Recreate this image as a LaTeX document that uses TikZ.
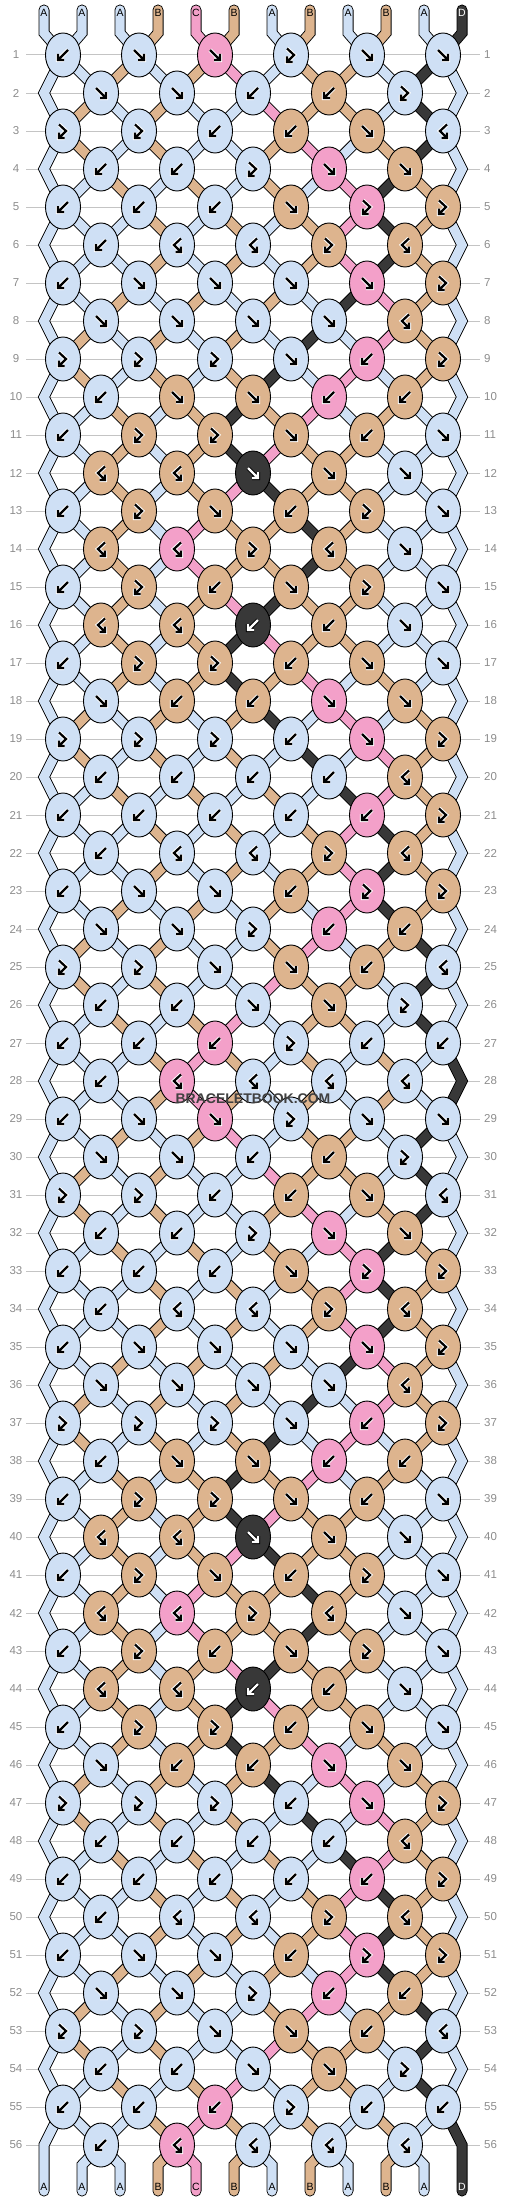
\documentclass[tikz,border=0pt]{standalone}
\usepackage{fontspec}
\setmainfont{Liberation Sans}
\usetikzlibrary{shapes.geometric}
\definecolor{colA}{RGB}{207,224,245}
\definecolor{colB}{RGB}{221,180,142}
\definecolor{colC}{RGB}{243,160,201}
\definecolor{colD}{RGB}{56,56,56}
\definecolor{gridgray}{RGB}{196,196,196}
\definecolor{numgray}{RGB}{140,140,140}
\definecolor{wmgray}{RGB}{64,64,64}
\pgfdeclarelayer{grid}
\pgfdeclarelayer{cout}
\pgfdeclarelayer{cfill}
\pgfsetlayers{grid,cout,cfill,main}
% knot types: F forward, B backward, X forward-backward, Y backward-forward
\expandafter\def\csname ty1\endcsname{B,F,F,X,F,F}
\expandafter\def\csname ty2\endcsname{F,F,B,B,X}
\expandafter\def\csname ty3\endcsname{X,X,B,B,F,Y}
\expandafter\def\csname ty4\endcsname{B,B,X,F,F}
\expandafter\def\csname ty5\endcsname{B,B,B,F,X,X}
\expandafter\def\csname ty6\endcsname{B,Y,Y,X,Y}
\expandafter\def\csname ty7\endcsname{B,F,F,F,F,X}
\expandafter\def\csname ty8\endcsname{F,F,F,F,Y}
\expandafter\def\csname ty9\endcsname{X,X,X,F,B,X}
\expandafter\def\csname ty10\endcsname{B,F,F,B,B}
\expandafter\def\csname ty11\endcsname{B,X,X,F,B,F}
\expandafter\def\csname ty12\endcsname{Y,Y,F,F,F}
\expandafter\def\csname ty13\endcsname{B,X,F,B,X,F}
\expandafter\def\csname ty14\endcsname{Y,Y,X,Y,F}
\expandafter\def\csname ty15\endcsname{B,X,B,F,X,F}
\expandafter\def\csname ty16\endcsname{Y,Y,B,B,F}
\expandafter\def\csname ty17\endcsname{B,X,X,B,F,F}
\expandafter\def\csname ty18\endcsname{F,B,B,F,F}
\expandafter\def\csname ty19\endcsname{X,X,X,B,F,X}
\expandafter\def\csname ty20\endcsname{B,B,B,B,Y}
\expandafter\def\csname ty21\endcsname{B,B,B,B,B,X}
\expandafter\def\csname ty22\endcsname{B,Y,Y,X,Y}
\expandafter\def\csname ty23\endcsname{B,F,F,B,X,X}
\expandafter\def\csname ty24\endcsname{F,F,X,B,B}
\expandafter\def\csname ty25\endcsname{X,X,F,F,B,Y}
\expandafter\def\csname ty26\endcsname{B,B,F,F,X}
\expandafter\def\csname ty27\endcsname{B,B,B,X,B,B}
\expandafter\def\csname ty28\endcsname{B,Y,Y,Y,Y}
% glyph paths (y downwards)
\def\gpF{(-5,-5)--(5,5) (-1,5)--(5,5)--(5,-1)}
\def\gpB{(5,-5)--(-5,5) (1,5)--(-5,5)--(-5,-1)}
\def\gpX{(-4,-6.5)--(3,0)--(-4,7) (1.5,7)--(-4,7)--(-4,1.5)}
\def\gpY{(4,-6.5)--(-3,0)--(4,7) (-1.5,7)--(4,7)--(4,1.5)}
\gdef\outlist{}
\gdef\filllist{}
\newcommand\setP[2]{\expandafter\xdef\csname sp#1\endcsname{#2}}
\newcommand\setS[2]{\expandafter\xdef\csname sc#1\endcsname{#2}}
\newcommand\drawstr[2]{%
  \edef\pathtmp{\csname sp#1\endcsname--#2}%
  \edef\coltmp{col\csname sc#1\endcsname}%
  \xdef\outlist{\unexpanded\expandafter{\outlist}\noexpand\draw[strout] \pathtmp;}%
  \xdef\filllist{\unexpanded\expandafter{\filllist}\noexpand\draw[strfill=\coltmp] \pathtmp;}%
}
\tikzset{
  knot/.style={ellipse, draw=black, line width=0.9pt, minimum width=35pt, minimum height=44pt, inner sep=0pt},
  strout/.style={line width=11pt, draw=black, line cap=round, line join=miter},
  strfill/.style={line width=9.2pt, draw=#1, line cap=round, line join=miter},
  ghalo/.style={line width=4.2pt, draw=#1, line join=miter},
  gline/.style={line width=2.2pt, draw=#1, line join=miter},
  gridline/.style={draw=gridgray, line width=1pt},
  numlbl/.style={text=numgray, font=\fontsize{11.5}{12}\selectfont, inner sep=0pt},
  strlbl/.style={font=\fontsize{10.5}{11}\selectfont, inner sep=0pt},
  wmark/.style={font=\bfseries\fontsize{14}{14}\selectfont, text=wmgray, inner sep=0pt},
}
\begin{document}
\begin{tikzpicture}[x=1pt,y=-1pt]
\useasboundingbox (0,0) rectangle (506,2200);
% grid lines and row numbers
\foreach \rr in {1,...,56}{%
  \pgfmathsetmacro\yy{55+38*(\rr-1)}%
  \coordinate (gl-\rr) at (26,\yy);
  \coordinate (gr-\rr) at (480,\yy);
  \node[numlbl] (nl-\rr) at (16,\yy) {\rr};
  \node[numlbl,anchor=west] (nr-\rr) at (484,\yy) {\rr};
}
\begin{pgfonlayer}{grid}
\foreach \rr in {1,...,56}{\draw[gridline] (gl-\rr) -- (gr-\rr);}
\end{pgfonlayer}
% top of strings
\foreach \sci [count=\ps] in {A,A,A,B,C,B,A,B,A,B,A,D}{%
  \pgfmathsetmacro\xp{44+38*(\ps-1)}%
  \coordinate (st-\ps) at (\xp,10);
  \coordinate (tp-\ps) at (\xp,33);
  \setS{\ps}{\sci}\setP{\ps}{(st-\ps)--(tp-\ps)}%
  \if D\sci \def\tc{white}\else\def\tc{black}\fi
  \node[strlbl,text=\tc] (lt-\ps) at (\xp,12.5) {\sci};
}
% rows of knots
\foreach \rr in {1,...,56}{%
  \pgfmathtruncatemacro\rowt{mod(\rr-1,28)+1}%
  \pgfmathtruncatemacro\odd{mod(\rr,2)}%
  \pgfmathsetmacro\yy{55+38*(\rr-1)}%
  \ifnum\odd=0
    \coordinate (eL-\rr) at (44,\yy);
    \coordinate (eR-\rr) at (462,\yy);
    \expandafter\xdef\csname sp1\endcsname{\csname sp1\endcsname--(eL-\rr)}%
    \expandafter\xdef\csname sp12\endcsname{\csname sp12\endcsname--(eR-\rr)}%
  \fi
  \edef\tl{\csname ty\rowt\endcsname}%
  \foreach \knt [count=\kj] in \tl {%
    \ifnum\odd=1
      \pgfmathtruncatemacro\pa{2*\kj-1}%
      \pgfmathsetmacro\xx{63+76*(\kj-1)}%
    \else
      \pgfmathtruncatemacro\pa{2*\kj}%
      \pgfmathsetmacro\xx{101+76*(\kj-1)}%
    \fi
    \pgfmathtruncatemacro\pb{\pa+1}%
    \edef\cL{\csname sc\pa\endcsname}%
    \edef\cR{\csname sc\pb\endcsname}%
    \let\kc\cR
    \if F\knt \let\kc\cL\fi
    \if X\knt \let\kc\cL\fi
    \edef\kcol{col\kc}%
    \node[knot, fill=\kcol] (k-\rr-\kj) at (\xx,\yy) {};
    \drawstr{\pa}{(k-\rr-\kj.center)}%
    \drawstr{\pb}{(k-\rr-\kj.center)}%
    \setP{\pa}{(k-\rr-\kj.center)}%
    \setP{\pb}{(k-\rr-\kj.center)}%
    \if F\knt \setS{\pa}{\cR}\setS{\pb}{\cL}\fi
    \if B\knt \setS{\pa}{\cR}\setS{\pb}{\cL}\fi
    \if D\kc \def\hc{black}\def\lc{white}\else\def\hc{white}\def\lc{black}\fi
    \begin{scope}[shift={(k-\rr-\kj.center)}]
      \edef\gdo{\noexpand\draw[ghalo=\hc] \csname gp\knt\endcsname; \noexpand\draw[gline=\lc] \csname gp\knt\endcsname;}%
      \gdo
    \end{scope}
  }%
}
% bottom of strings
\foreach \ps in {1,...,12}{%
  \pgfmathsetmacro\xp{44+38*(\ps-1)}%
  \coordinate (bt-\ps) at (\xp,2165);
  \coordinate (en-\ps) at (\xp,2191);
  \drawstr{\ps}{(bt-\ps)--(en-\ps)}%
  \edef\sci{\csname sc\ps\endcsname}%
  \if D\sci \def\tc{white}\else\def\tc{black}\fi
  \node[strlbl,text=\tc] (lb-\ps) at (\xp,2187) {\sci};
}
\begin{pgfonlayer}{cout}\outlist\end{pgfonlayer}
\begin{pgfonlayer}{cfill}\filllist\end{pgfonlayer}
\node[wmark] (wm) at (253,1099) {BRACELETBOOK.COM};
\end{tikzpicture}
\end{document}
